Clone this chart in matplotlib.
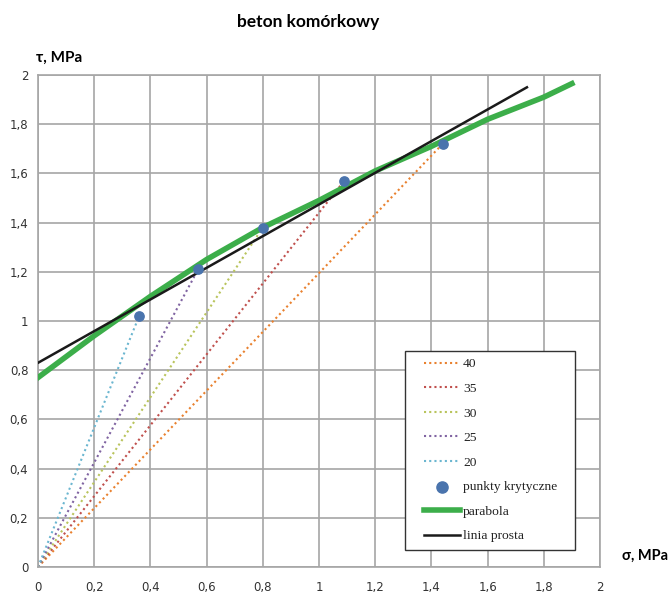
import matplotlib
matplotlib.use("Agg")
import matplotlib.pyplot as plt
import numpy as np
from matplotlib.lines import Line2D

# critical points (sigma, tau) and the labels of the dotted lines to them
angles = ["40", "35", "30", "25", "20"]
crit_sigma = [1.44, 1.09, 0.80, 0.57, 0.36]
crit_tau = [1.72, 1.57, 1.38, 1.21, 1.02]
line_colors = ["#e9812f", "#c0504d", "#b9c45c", "#8064a2", "#6bb6d0"]

# parabola
par_sigma = [0.0, 0.2, 0.4, 0.6, 0.8, 1.0, 1.2, 1.4, 1.6, 1.8, 1.9]
par_tau = [0.77, 0.94, 1.10, 1.25, 1.38, 1.49, 1.61, 1.71, 1.82, 1.91, 1.965]

# straight line
lin_sigma = [0.0, 1.74]
lin_tau = [0.83, 1.95]

xticks = [0, 0.2, 0.4, 0.6, 0.8, 1, 1.2, 1.4, 1.6, 1.8, 2]
yticks = [0, 0.2, 0.4, 0.6, 0.8, 1, 1.2, 1.4, 1.6, 1.8, 2]

fig = plt.figure(figsize=(6.68, 5.96), dpi=100)
ax = fig.add_axes([38 / 668, 29 / 596, 562 / 668, 492 / 596])

for lab, sx, ty, col in zip(angles, crit_sigma, crit_tau, line_colors):
    ax.plot([0, sx], [0, ty], linestyle=(0, (1, 1.5)), color=col, lw=1.5, label=lab)

ax.scatter(crit_sigma, crit_tau, s=45, color="#4a74ad", zorder=5, label="punkty krytyczne")
ax.plot(par_sigma, par_tau, color="#3cae4a", lw=4, label="parabola", zorder=4)
ax.plot(lin_sigma, lin_tau, color="#1a1a1a", lw=1.8, label="linia prosta", zorder=4)

ax.set_xlim(0, 2)
ax.set_ylim(0, 2)
ax.set_xticks(xticks)
ax.set_yticks(yticks)
fmt = lambda v: ("%g" % v).replace(".", ",")
ax.set_xticklabels([fmt(v) for v in xticks])
ax.set_yticklabels([fmt(v) for v in yticks])
ax.tick_params(length=0, labelsize=8.5, colors="#333333", pad=7)
ax.tick_params(axis="x", pad=10)
ax.grid(True, color="#a6a6a6", lw=1.2)
ax.set_axisbelow(True)
for sp in ax.spines.values():
    sp.set_color("#a6a6a6")
    sp.set_linewidth(1.2)

fig.text(308 / 668, 1 - 22 / 596, "beton komórkowy", ha="center", va="center",
         fontsize=12.5, fontweight="bold", family=["Lato", "DejaVu Sans"])
fig.text(36 / 668, 1 - 58 / 596, "τ, MPa", ha="left", va="center",
         fontsize=11, fontweight="bold", family=["Lato", "DejaVu Sans"])
fig.text(622 / 668, 1 - 556 / 596, "σ, MPa", ha="left", va="center",
         fontsize=10.5, fontweight="bold", family=["Lato", "DejaVu Sans"])

leg = ax.legend(loc="lower left", bbox_to_anchor=(0.653, 0.035, 0.302, 0.407),
                mode="expand", prop={"family": "Liberation Serif", "size": 9.7},
                frameon=True, fancybox=False, framealpha=1, edgecolor="#333333",
                handlelength=2.67, labelspacing=0.9, borderaxespad=0, borderpad=0.55,
                handletextpad=1.1, markerscale=1.2)
leg.get_frame().set_linewidth(1.0)
for t in leg.get_texts():
    t.set_color("#222222")

# move the legend handles a little to the right inside the frame
shift = 12 * 72 / 100
for h in leg.legend_handles:
    if isinstance(h, Line2D):
        h.set_xdata(np.asarray(h.get_xdata()) + shift)
    else:
        h.set_offsets(np.asarray(h.get_offsets()) + [shift, 0])

fig.savefig("out.png", dpi=100)
